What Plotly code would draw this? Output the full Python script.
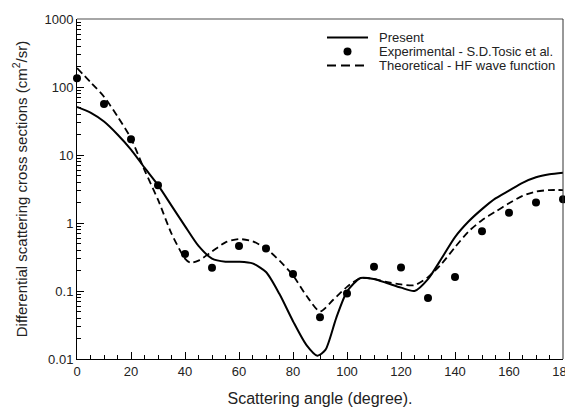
import plotly.graph_objects as go

# Experimental data (S.D.Tosic et al.)
exp_angle = [0, 10, 20, 30, 40, 50, 60, 70, 80, 90, 100, 110, 120, 130, 140, 150, 160, 170, 180]
exp_dcs = [134, 56, 17.0, 3.6, 0.35, 0.22, 0.46, 0.42, 0.178, 0.041, 0.092, 0.227, 0.222, 0.079, 0.16, 0.755, 1.42, 2.01, 2.23]

# Present calculation
pres_angle = [0, 5, 10, 15, 20, 25, 30, 35, 40, 45, 50, 55, 60, 65, 70, 75, 80, 85, 89, 92, 96,
              100, 105, 110, 115, 120, 125, 130, 135, 140, 145, 150, 155, 160, 165, 170, 175, 180]
pres_dcs = [51, 42, 31, 20, 12, 6.5, 3.6, 1.8, 0.9, 0.46, 0.3, 0.27, 0.27, 0.255, 0.19, 0.09,
            0.036, 0.016, 0.0112, 0.0136, 0.04, 0.098, 0.155, 0.15, 0.13, 0.112, 0.10, 0.15,
            0.30, 0.62, 1.05, 1.6, 2.3, 3.0, 3.9, 4.7, 5.2, 5.5]

# Theoretical - HF wave function
theo_angle = [0, 5, 10, 15, 20, 25, 30, 35, 40, 42, 45, 50, 55, 60, 65, 70, 75, 80, 85, 90, 95,
              100, 105, 110, 115, 120, 125, 130, 135, 140, 145, 150, 155, 160, 165, 170, 175, 180]
theo_dcs = [190, 118, 72, 37, 17.5, 6.0, 2.2, 0.70, 0.30, 0.26, 0.28, 0.38, 0.52, 0.58, 0.54, 0.42,
            0.28, 0.17, 0.085, 0.05, 0.075, 0.115, 0.155, 0.15, 0.135, 0.125, 0.122, 0.16, 0.25,
            0.44, 0.75, 1.1, 1.47, 1.95, 2.5, 2.9, 3.05, 3.05]

x_ticks = [0, 20, 40, 60, 80, 100, 120, 140, 160, 180]
y_ticks = [0.01, 0.1, 1, 10, 100, 1000]
y_labels = ["0.01", "0.1", "1", "10", "100", "1000"]

legend_names = ["Present", "Experimental - S.D.Tosic et al.", "Theoretical - HF wave function"]

FONT = "Liberation Sans, Arial, sans-serif"
TXT = "#222"

fig = go.Figure()
fig.add_trace(go.Scatter(x=pres_angle, y=pres_dcs, mode="lines", name=legend_names[0],
                         line=dict(color="black", width=2, shape="spline", smoothing=0.7)))
fig.add_trace(go.Scatter(x=exp_angle, y=exp_dcs, mode="markers", name=legend_names[1],
                         cliponaxis=False,
                         marker=dict(color="black", size=8, symbol="circle")))
fig.add_trace(go.Scatter(x=theo_angle, y=theo_dcs, mode="lines", name=legend_names[2],
                         line=dict(color="black", width=1.8, dash="7px,4px", shape="spline", smoothing=0.7)))

# legend drawn manually (compact row spacing as in the reference)
lx0, lx1, ltx = 0.5144, 0.5988, 0.6173
rows = [0.9456, 0.9044, 0.8632]
shapes = [
    dict(type="line", xref="paper", yref="paper", x0=0, x1=1, y0=1, y1=1,
         line=dict(color="#888", width=1.5)),
    dict(type="line", xref="paper", yref="paper", x0=1, x1=1, y0=0, y1=1,
         line=dict(color="#333", width=1)),
    dict(type="line", xref="paper", yref="paper", x0=lx0, x1=lx1, y0=rows[0], y1=rows[0],
         line=dict(color="black", width=2)),
    dict(type="circle", xref="paper", yref="paper", x0=0.5484, x1=0.5648,
         y0=rows[1] - 0.0118, y1=rows[1] + 0.0118,
         fillcolor="black", line=dict(color="black", width=0)),
    dict(type="line", xref="paper", yref="paper", x0=lx0, x1=lx1, y0=rows[2], y1=rows[2],
         line=dict(color="black", width=1.8, dash="9px,5px")),
]
annotations = [
    dict(x=ltx, y=r, xref="paper", yref="paper", text=t, showarrow=False,
         xanchor="left", yanchor="middle", font=dict(family=FONT, size=13, color=TXT))
    for r, t in zip(rows, legend_names)
]

fig.update_layout(
    width=573, height=410,
    margin=dict(l=69, r=18, t=11, b=59),
    paper_bgcolor="white", plot_bgcolor="white",
    font=dict(family=FONT, size=12, color=TXT),
    showlegend=False,
    xaxis=dict(
        range=[0, 180], tickmode="array", tickvals=x_ticks, automargin=False,
        ticklabeloverflow="allow",
        ticks="inside", ticklen=7, tickwidth=1, tickcolor="black",
        minor=dict(ticks="inside", ticklen=4, dtick=5, tickcolor="black"),
        showline=True, linecolor="black", linewidth=1, mirror=False,
        showgrid=False, zeroline=False,
        tickfont=dict(size=13, color=TXT),
        title=dict(text="Scattering angle (degree).", font=dict(size=16, color=TXT), standoff=15),
    ),
    yaxis=dict(
        type="log", range=[-2, 3], tickmode="array", tickvals=y_ticks, ticktext=y_labels,
        automargin=False, ticklabeloverflow="allow",
        ticks="inside", ticklen=7, tickwidth=1, tickcolor="black",
        minor=dict(ticks="inside", ticklen=4, tickcolor="black", dtick="D1"),
        showline=True, linecolor="black", linewidth=1, mirror=False,
        showgrid=False, zeroline=False,
        tickfont=dict(size=13, color=TXT),
        title=dict(text="Differential scattering cross sections (cm<sup>2</sup>/sr)",
                   font=dict(size=15, color=TXT), standoff=13),
    ),
    shapes=shapes,
    annotations=annotations,
)

fig.write_html("out.html")
